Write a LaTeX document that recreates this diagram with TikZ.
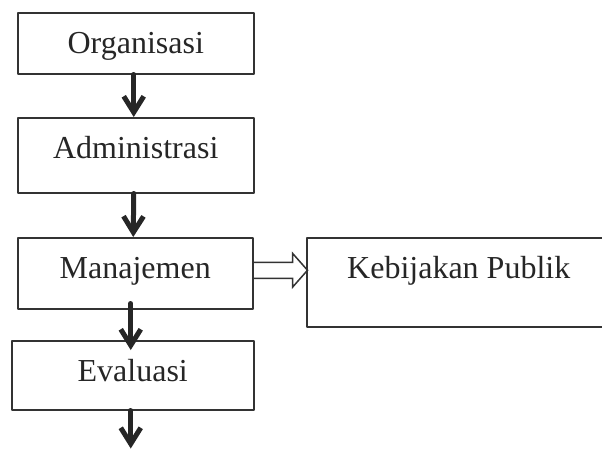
\documentclass[tikz,border=0pt]{standalone}
\usepackage{fontspec}
\setmainfont{Liberation Serif}
\usetikzlibrary{arrows.meta}
\definecolor{garis}{HTML}{333333}
\tikzset{
  kotak/.style={draw=garis, line width=1.5pt, rectangle, inner sep=0pt, anchor=north west,
    minimum width=236pt, text height=41pt, font=\fontsize{32}{38}\selectfont, text=black!85},
  panah/.style={line width=5pt, draw=black!85, -{Straight Barb[length=16pt,width=20pt]}},
}
\begin{document}
\begin{tikzpicture}[line cap=round,line join=round,x=1pt,y=-1pt]
  \useasboundingbox (0,0) rectangle (602,448);
  % kotak
  \node[kotak, text depth=20pt] (org) at (17,12) {Organisasi};
  \node[kotak, text depth=34pt] (adm) at (17,117) {Administrasi};
  \node[kotak, text depth=30pt, minimum width=235pt] (man) at (17,237) {Manajemen};
  \node[kotak, text depth=48pt, minimum width=304pt] (keb) at (306,237) {Kebijakan Publik};
  \node[kotak, text depth=28pt, minimum width=242pt] (eva) at (11,340) {Evaluasi};
  % panah
  \draw[panah] ([xshift=-2pt]org.south) -- ([xshift=-2pt]adm.north);
  \draw[panah] ([xshift=-2pt]adm.south) -- ([xshift=-2pt]man.north);
  \draw[panah] ([xshift=-4.5pt,yshift=6pt]man.south) -- ([xshift=-2pt,yshift=-10pt]eva.north);
  \draw[panah] ([xshift=-2pt]eva.south) -- ([xshift=-2pt,yshift=-38pt]eva.south);
  % panah kosong
  \draw[garis, line width=1.5pt, line cap=butt, line join=miter] ([yshift=11pt]man.east) -- ++(39,0) -- ++(0,-9)
    -- ++(15,17) -- ++(-15,17) -- ++(0,-9) -- ++(-39,0);
\end{tikzpicture}
\end{document}
